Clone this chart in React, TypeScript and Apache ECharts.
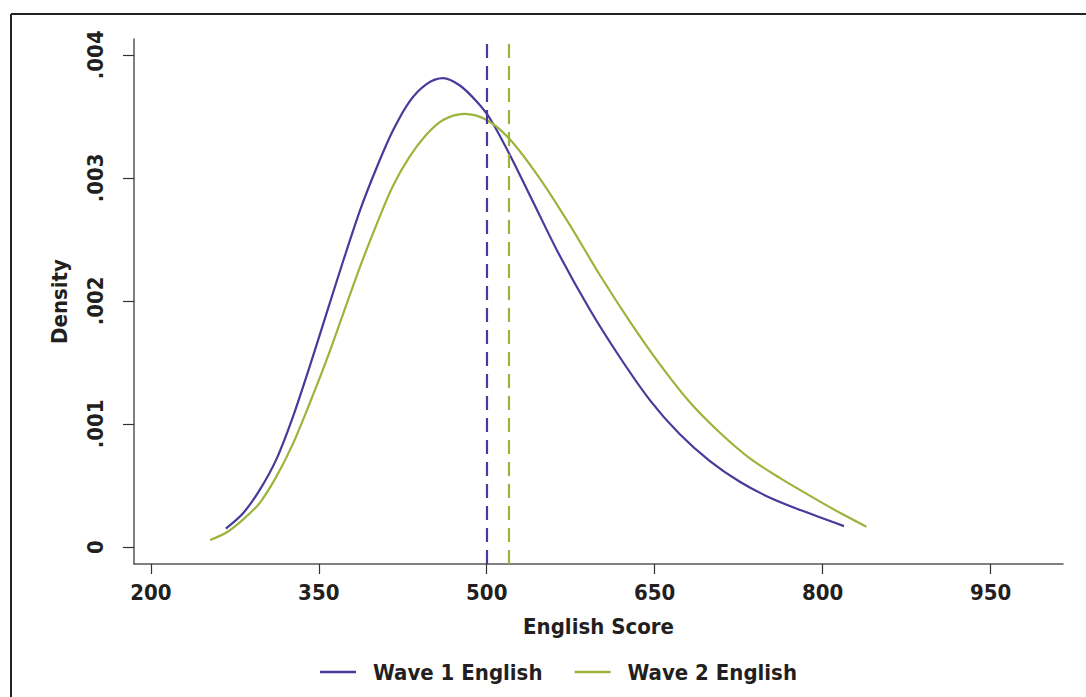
import React, { useEffect, useRef } from "react";
import * as echarts from "echarts";

const seriesNames = ["Wave 1 English", "Wave 2 English"];
const seriesColors = ["#463a9b", "#9bb53c"];

const wave1Score = [267, 282, 297, 312, 327, 342, 357, 372, 387, 402, 416, 431, 446, 461, 476, 491, 503, 521, 540, 565, 592, 619, 646, 672, 699, 726, 753, 780, 819];
const wave1Density = [0.00015, 0.00027, 0.00046, 0.00071, 0.00106, 0.00147, 0.0019, 0.00233, 0.00274, 0.00309, 0.00338, 0.00362, 0.00376, 0.00381, 0.00375, 0.00362, 0.00348, 0.00318, 0.00283, 0.00237, 0.00193, 0.00154, 0.00119, 0.00092, 0.0007, 0.00053, 0.0004, 0.0003, 0.00017];

const wave2Score = [253, 268, 282, 297, 312, 327, 342, 357, 372, 387, 402, 416, 431, 446, 461, 480, 500, 521, 547, 574, 601, 628, 655, 681, 708, 735, 762, 788, 815, 839];
const wave2Density = [0.000057, 0.00012, 0.00022, 0.000355, 0.00057, 0.00084, 0.00117, 0.00152, 0.0019, 0.00228, 0.00263, 0.00293, 0.00317, 0.00335, 0.00347, 0.00352, 0.00347, 0.00331, 0.003, 0.00262, 0.00221, 0.00183, 0.00148, 0.00118, 0.00093, 0.00072, 0.00056, 0.00042, 0.00028, 0.000165];

const meanScores = [500, 520];

const xTicks = [200, 350, 500, 650, 800, 950];
const yTicks = [0, 0.001, 0.002, 0.003, 0.004];

const FONT = "'DejaVu Sans Condensed', 'Liberation Sans', sans-serif";
const TEXT = "#231f20";
const FS = 22;

export default function App() {
  const ref = useRef<HTMLDivElement>(null);
  useEffect(() => {
    document.body.style.margin = "0";
    if (!ref.current) return;
    const chart = echarts.init(ref.current, null, { renderer: "svg" });
    const pairs = (xs: number[], ys: number[]) => xs.map((x, i) => [x, ys[i]]);
    const datasets = [pairs(wave1Score, wave1Density), pairs(wave2Score, wave2Density)];
    chart.setOption({
      animation: false,
      backgroundColor: "#ffffff",
      grid: { left: 134, top: 39, right: 23, bottom: 133, containLabel: false },
      xAxis: {
        type: "value",
        min: 185,
        max: 1014.6,
        name: "English Score",
        nameLocation: "middle",
        nameGap: 51,
        nameTextStyle: { fontFamily: FONT, fontWeight: "bold", fontSize: FS, color: TEXT },
        axisLine: { show: true, onZero: false, lineStyle: { color: "#555555", width: 1.5 } },
        axisTick: { show: true, length: 10, customValues: xTicks, lineStyle: { color: "#333333", width: 1.2 } },
        axisLabel: {
          customValues: xTicks,
          margin: 17,
          fontFamily: FONT,
          fontWeight: "bold",
          fontSize: FS,
          color: TEXT,
        },
        splitLine: { show: false },
      },
      yAxis: {
        type: "value",
        min: -0.000138,
        max: 0.004128,
        name: "Density",
        nameLocation: "middle",
        nameGap: 64,
        nameRotate: 90,
        nameTextStyle: { fontFamily: FONT, fontWeight: "bold", fontSize: FS, color: TEXT },
        axisLine: { show: true, onZero: false, lineStyle: { color: "#555555", width: 1.5 } },
        axisTick: { show: true, length: 11, customValues: yTicks, lineStyle: { color: "#333333", width: 1.2 } },
        axisLabel: {
          customValues: yTicks,
          rotate: 90,
          margin: 28,
          fontFamily: FONT,
          fontWeight: "bold",
          fontSize: FS,
          color: TEXT,
          formatter: (v: number) => (Math.abs(v) < 1e-9 ? "0" : v.toFixed(3).replace(/^0/, "")),
        },
        splitLine: { show: false },
      },
      legend: {
        left: 315,
        top: 656,
        icon: "rect",
        itemWidth: 36,
        itemHeight: 2.5,
        itemGap: 32,
        textStyle: { fontFamily: FONT, fontWeight: "bold", fontSize: FS, color: TEXT, padding: [0, 0, 0, 12] },
        data: seriesNames,
      },
      series: seriesNames.map((name, i) => ({
        name,
        type: "line",
        data: datasets[i],
        smooth: 0.3,
        symbol: "none",
        showSymbol: false,
        lineStyle: { color: seriesColors[i], width: 2.2 },
        itemStyle: { color: seriesColors[i] },
        markLine: {
          silent: true,
          symbol: "none",
          label: { show: false },
          lineStyle: { color: seriesColors[i], width: 2.2, type: [14, 8] },
          data: [{ xAxis: meanScores[i] }],
        },
      })),
      graphic: [
        { type: "line", shape: { x1: 11, y1: 14, x2: 1086, y2: 14 }, style: { stroke: "#222222", lineWidth: 2 } },
        { type: "line", shape: { x1: 11, y1: 14, x2: 11, y2: 697 }, style: { stroke: "#222222", lineWidth: 2 } },
      ],
    });
    return () => chart.dispose();
  }, []);
  return <div ref={ref} style={{ width: 1086, height: 697 }} />;
}
